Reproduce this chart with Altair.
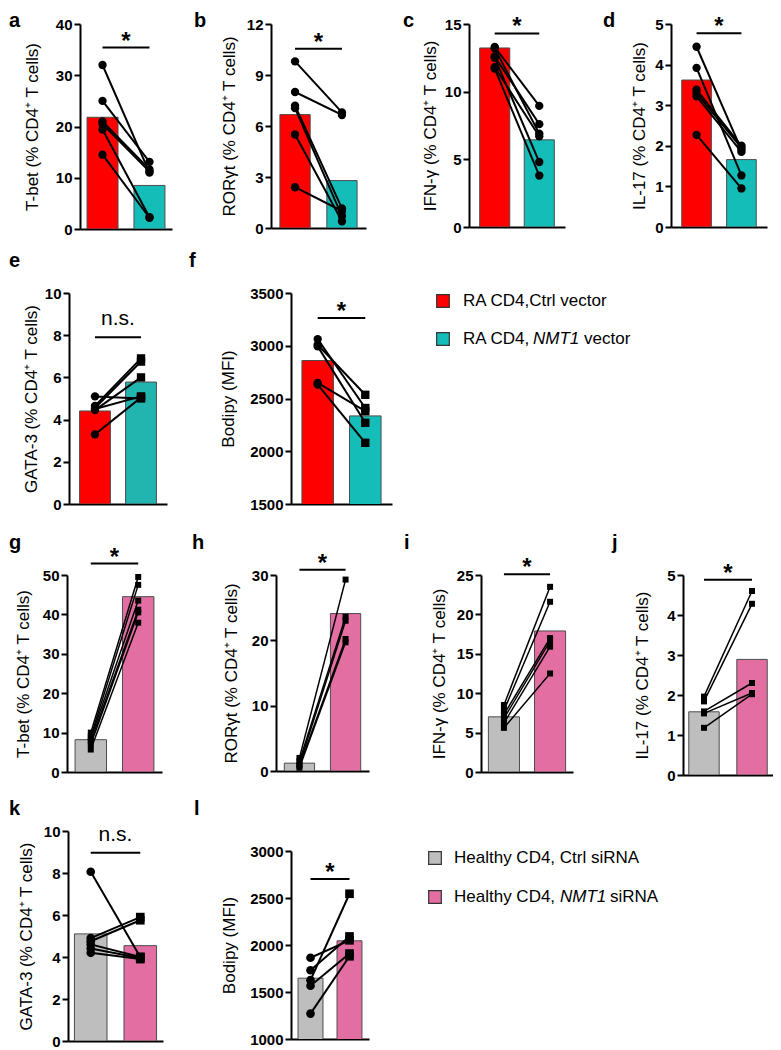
import altair as alt
import pandas as pd

FONT = "Liberation Sans"

RA = ["RA CD4, Ctrl vector", "RA CD4, NMT1 vector"]
HC = ["Healthy CD4, Ctrl siRNA", "Healthy CD4, NMT1 siRNA"]

# ---------------- data (paired donors, bar = group mean) ----------------
a_ctrl = [32.0, 25.0, 21.0, 20.5, 19.4, 14.5]
a_trt = [11.0, 13.1, 11.6, 11.2, 2.3, 2.2]
a_bar = [21.8, 8.5]

b_ctrl = [9.8, 8.0, 7.2, 7.05, 5.5, 2.4]
b_trt = [6.8, 6.65, 1.15, 0.7, 0.4, 1.0]
b_bar = [6.67, 2.79]

c_ctrl = [13.3, 13.2, 12.6, 12.5, 11.8, 11.7]
c_trt = [8.95, 6.9, 7.6, 4.8, 6.7, 3.8]
c_bar = [13.23, 6.44]

d_ctrl = [4.44, 3.92, 3.38, 3.3, 3.22, 2.27]
d_trt = [1.9, 1.27, 2.0, 1.95, 1.85, 0.95]
d_bar = [3.62, 1.66]

e_ctrl = [5.1, 4.65, 4.55, 4.45, 4.5, 3.3]
e_trt = [5.0, 6.9, 6.75, 6.0, 5.1, 5.05]
e_bar = [4.41, 5.78]

f_ctrl = [3063, 3009, 2994, 2648, 2632]
f_trt = [2410, 2535, 2270, 2380, 2080]
f_bar = [2860, 2335]

g_ctrl = [10.0, 9.0, 8.5, 7.8, 7.0, 5.7]
g_trt = [49.5, 47.5, 43.5, 41.2, 40.5, 37.9]
g_bar = [8.2, 44.5]

h_ctrl = [2.0, 1.5, 1.0, 0.8, 0.5]
h_trt = [29.3, 23.6, 23.0, 20.2, 19.7]
h_bar = [1.2, 24.1]

i_ctrl = [8.5, 7.8, 7.3, 6.8, 6.2, 5.6]
i_trt = [23.5, 21.6, 17.0, 16.6, 15.9, 12.5]
i_bar = [7.0, 17.9]

j_ctrl = [1.96, 1.84, 1.59, 1.54, 1.18]
j_trt = [4.6, 4.28, 2.3, 2.05, 2.02]
j_bar = [1.58, 2.89]

k_ctrl = [8.06, 4.9, 4.75, 4.6, 4.4, 4.2]
k_trt = [4.0, 5.9, 5.75, 4.0, 3.95, 3.9]
k_bar = [5.1, 4.54]

l_ctrl = [1864, 1731, 1626, 1567, 1270]
l_trt = [2050, 2091, 2545, 1909, 1880]
l_bar = [1647, 2045]

# axis titles, domains, tick labels, significance annotations
titles = {
    "a": "T-bet (% CD4\u207a T cells)", "b": "ROR\u03b3t (% CD4\u207a T cells)",
    "c": "IFN-\u03b3 (% CD4\u207a T cells)", "d": "IL-17 (% CD4\u207a T cells)",
    "e": "GATA-3 (% CD4\u207a T cells)", "f": "Bodipy (MFI)",
    "g": "T-bet (% CD4\u207a T cells)", "h": "ROR\u03b3t (% CD4\u207a T cells)",
    "i": "IFN-\u03b3 (% CD4\u207a T cells)", "j": "IL-17 (% CD4\u207a T cells)",
    "k": "GATA-3 (% CD4\u207a T cells)", "l": "Bodipy (MFI)",
}
domains = {"a": [0, 40], "b": [0, 12], "c": [0, 15], "d": [0, 5], "e": [0, 10], "f": [1500, 3500],
           "g": [0, 50], "h": [0, 30], "i": [0, 25], "j": [0, 5], "k": [0, 10], "l": [1000, 3000]}
ticks = {"a": [0, 10, 20, 30, 40], "b": [0, 3, 6, 9, 12], "c": [0, 5, 10, 15], "d": [0, 1, 2, 3, 4, 5],
         "e": [0, 2, 4, 6, 8, 10], "f": [1500, 2000, 2500, 3000, 3500], "g": [0, 10, 20, 30, 40, 50],
         "h": [0, 10, 20, 30], "i": [0, 5, 10, 15, 20, 25], "j": [0, 1, 2, 3, 4, 5],
         "k": [0, 2, 4, 6, 8, 10], "l": [1000, 1500, 2000, 2500, 3000]}
sig_y = {"a": 35.4, "b": 10.55, "c": 14.3, "d": 4.77, "e": 7.9, "f": 3264,
         "g": 52.9, "h": 30.8, "i": 25.1, "j": 4.88, "k": 8.96, "l": 2703}
sig_text = {"a": "*", "b": "*", "c": "*", "d": "*", "e": "n.s.", "f": "*",
            "g": "*", "h": "*", "i": "*", "j": "*", "k": "n.s.", "l": "*"}

values = {
    "a": (RA, a_ctrl, a_trt, a_bar), "b": (RA, b_ctrl, b_trt, b_bar), "c": (RA, c_ctrl, c_trt, c_bar),
    "d": (RA, d_ctrl, d_trt, d_bar), "e": (RA, e_ctrl, e_trt, e_bar), "f": (RA, f_ctrl, f_trt, f_bar),
    "g": (HC, g_ctrl, g_trt, g_bar), "h": (HC, h_ctrl, h_trt, h_bar), "i": (HC, i_ctrl, i_trt, i_bar),
    "j": (HC, j_ctrl, j_trt, j_bar), "k": (HC, k_ctrl, k_trt, k_bar), "l": (HC, l_ctrl, l_trt, l_bar),
}

# legend text
leg1_pre = ["RA CD4,Ctrl vector", "RA CD4,"]
leg1_ital = ["", "NMT1"]
leg1_post = ["", "vector"]
leg2_pre = ["Healthy CD4, Ctrl siRNA", "Healthy CD4,"]
leg2_ital = ["", "NMT1"]
leg2_post = ["", "siRNA"]

# ---------------- styles / layout ----------------
RED, TEAL, TEAL_E = "#FF0000", "#15BDB9", "#22B4AE"
GREY, PINK = "#BEBEBE", "#E36EA2"

RA_STY = dict(colors=[RED, TEAL], shapes=["circle", "circle"], ps=70, lw=2)
RA_STY2 = dict(colors=[RED, TEAL], shapes=["circle", "square"], ps=70, lw=2)
HC_STY = dict(colors=[GREY, PINK], shapes=["square", "square"], ps=36, lw=1.5)
HC_STY2 = dict(colors=[GREY, PINK], shapes=["circle", "square"], ps=75, lw=2)

LAY = {
    "a": dict(W=92, H=205, pi=0.34, po=0.15, lx=-71, ly=3, tp=14, **RA_STY),
    "b": dict(W=95, H=204, pi=0.355, po=0.19, lx=-77, ly=3, tp=8, **RA_STY),
    "c": dict(W=96, H=203, pi=0.325, po=0.24, lx=-66, ly=3, tp=5, **RA_STY),
    "d": dict(W=96, H=203, pi=0.34, po=0.24, lx=-68, ly=3, tp=6, **RA_STY),
    "e": dict(W=98, H=211, pi=0.33, po=0.23, lx=-60, ly=-26, tp=4, **dict(RA_STY2, colors=[RED, TEAL_E])),
    "f": dict(W=101, H=211, pi=0.337, po=0.23, lx=-102, ly=-26, tp=12, **RA_STY2),
    "g": dict(W=95, H=197, pi=0.337, po=0.17, lx=-58, ly=-26, tp=10, **HC_STY),
    "h": dict(W=93, H=196, pi=0.344, po=0.18, lx=-84, ly=-26, tp=11, **HC_STY),
    "i": dict(W=92, H=197, pi=0.326, po=0.16, lx=-77, ly=-26, tp=8, **HC_STY),
    "j": dict(W=90, H=200, pi=0.367, po=0.12, lx=-71, ly=-26, tp=15, **HC_STY),
    "k": dict(W=95, H=210, pi=0.343, po=0.13, lx=-59, ly=-16, tp=8, **HC_STY2),
    "l": dict(W=78, H=188, pi=0.36, po=0.18, lx=-97, ly=-16, tp=11, **HC_STY2),
}


def letter_text(key, lx, ly):
    df = pd.DataFrame({"letter": [key]})
    return alt.Chart(df).mark_text(align="left", baseline="alphabetic", font=FONT, fontSize=20,
                                   fontWeight="bold", color="black").encode(
        x=alt.value(lx), y=alt.value(ly), text="letter:N")


def spacer(key="", lx=0, ly=0):
    if key:
        return letter_text(key, lx, ly).properties(width=1, height=1)
    df = pd.DataFrame({"letter": [""]})
    return alt.Chart(df).mark_text(fontSize=1).encode(
        x=alt.value(0), y=alt.value(0), text="letter:N").properties(width=1, height=1)


def panel(key, with_letter=True):
    groups, ctrl, trt, bar = values[key]
    L = LAY[key]
    n1, n2 = len(ctrl), len(trt)
    pts = pd.DataFrame({
        "pair": list(range(n1)) + list(range(n2)),
        "group": [groups[0]] * n1 + [groups[1]] * n2,
        "value": ctrl + trt,
    })
    bars = pd.DataFrame({"group": groups, "value": bar})
    sig = pd.DataFrame({"group": groups, "value": [sig_y[key]] * 2, "label": [sig_text[key], ""]})
    step = L["W"] / (2 - L["pi"] + 2 * L["po"])

    x = alt.X("group:N",
              scale=alt.Scale(domain=groups, paddingInner=L["pi"], paddingOuter=L["po"]),
              axis=alt.Axis(labels=False, ticks=False, title=None))
    y = alt.Y("value:Q",
              scale=alt.Scale(domain=domains[key], nice=False, zero=False),
              axis=alt.Axis(values=ticks[key], title=titles[key], titlePadding=L["tp"], format="d"))

    b = alt.Chart(bars).mark_bar(stroke="#4d4d4d", strokeWidth=1, clip=True).encode(
        x=x, y=y,
        color=alt.Color("group:N", scale=alt.Scale(domain=groups, range=L["colors"]), legend=None))
    ln = alt.Chart(pts).mark_line(color="black", strokeWidth=L["lw"]).encode(x=x, y=y, detail="pair:N")
    pt = alt.Chart(pts).mark_point(filled=True, opacity=1, color="black").encode(
        x=x, y=y,
        shape=alt.Shape("group:N", scale=alt.Scale(domain=groups, range=L["shapes"]), legend=None),
        size=alt.value(L["ps"]))
    br = alt.Chart(sig).mark_line(color="black", strokeWidth=2).encode(x=x, y=y)
    if sig_text[key] == "*":
        st = alt.Chart(sig).transform_filter(alt.datum.label != "").mark_text(
            dx=step / 2, dy=1, baseline="alphabetic", align="center", font=FONT,
            fontSize=24, fontWeight="bold", color="black").encode(x=x, y=y, text="label:N")
    else:
        st = alt.Chart(sig).transform_filter(alt.datum.label != "").mark_text(
            dx=step / 2, dy=-12, baseline="alphabetic", align="center", font=FONT,
            fontSize=21, color="black").encode(x=x, y=y, text="label:N")
    layers = [b, ln, pt, br, st]
    if with_letter:
        layers.append(letter_text(key, L["lx"], L["ly"]))
    return alt.layer(*layers).properties(width=L["W"], height=L["H"])


def legend(groups, colors, pre, ital, post, L):
    df = pd.DataFrame({"group": groups, "pre": pre, "ital": ital, "post": post})
    y = alt.Y("group:N", scale=alt.Scale(type="point", domain=groups, range=L["ys"], padding=0), axis=None)
    sq = alt.Chart(df).mark_square(size=160, stroke="#333333", strokeWidth=1.2, opacity=1).encode(
        x=alt.value(L["sx"]), y=y,
        color=alt.Color("group:N", scale=alt.Scale(domain=groups, range=colors), legend=None))
    t1 = alt.Chart(df).mark_text(align="left", baseline="middle", font=FONT, fontSize=17, color="black").encode(
        x=alt.value(L["tx"]), y=y, text="pre:N")
    t2 = alt.Chart(df).mark_text(align="left", baseline="middle", font=FONT, fontSize=17, fontStyle="italic",
                                 color="black").encode(x=alt.value(L["ix"]), y=y, text="ital:N")
    t3 = alt.Chart(df).mark_text(align="left", baseline="middle", font=FONT, fontSize=17, color="black").encode(
        x=alt.value(L["px"]), y=y, text="post:N")
    return alt.layer(sq, t1, t2, t3).properties(width=L["W"], height=L["H"])


IND = dict(color="independent", shape="independent")


def hc(*charts, spacing):
    return alt.hconcat(*charts, spacing=spacing).resolve_scale(**IND)


def vc(*charts, spacing):
    return alt.vconcat(*charts, spacing=spacing).resolve_scale(**IND)


leg1 = legend(RA, [RED, TEAL], leg1_pre, leg1_ital, leg1_post,
              dict(ys=[8, 46], sx=25, tx=45, ix=115, px=166, W=330, H=120))
leg2 = legend(HC, [GREY, PINK], leg2_pre, leg2_ital, leg2_post,
              dict(ys=[27, 66], sx=27, tx=46, ix=152, px=202, W=340, H=120))

row1 = hc(spacer(), hc(panel("a"), hc(panel("b"), hc(panel("c"), panel("d"), spacing=38), spacing=37),
                       spacing=22), spacing=0)
row2 = hc(spacer(), hc(panel("e"), hc(panel("f"), leg1, spacing=26), spacing=22), spacing=0)
row3 = hc(spacer(), hc(panel("g"), hc(panel("h"), hc(panel("i"), panel("j"), spacing=39), spacing=35),
                       spacing=30), spacing=0)
l_col = vc(spacer("l", LAY["l"]["lx"], LAY["l"]["ly"]), panel("l", with_letter=False), spacing=12)
row4 = hc(spacer(), hc(panel("k"), hc(l_col, leg2, spacing=39), spacing=31), spacing=0)

chart = vc(
    vc(row1, row2, spacing=14),
    vc(row3, row4, spacing=16),
    spacing=21,
).properties(padding={"left": 0, "top": 3, "right": 0, "bottom": 0}).configure_view(
    strokeWidth=0).configure_axis(
    domainColor="black", domainWidth=2, tickColor="black", tickWidth=2, tickSize=6,
    labelFont=FONT, labelFontSize=15, labelFontWeight="bold", labelColor="black", labelPadding=2,
    titleFont=FONT, titleFontSize=17, titleFontWeight="normal", titleColor="black", grid=False,
)

chart.save("out.html", embed_options={"renderer": "svg", "actions": False})
